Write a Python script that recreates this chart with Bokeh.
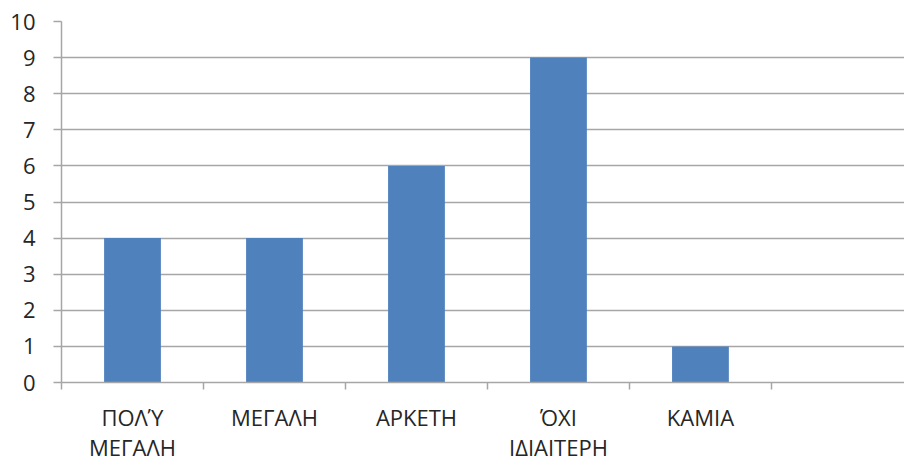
from bokeh.plotting import figure
from bokeh.models import FixedTicker, ColumnDataSource
from bokeh.embed import file_html
from bokeh.resources import INLINE

categories = ["ΠΟΛΎ\nΜΕΓΑΛΗ", "ΜΕΓΑΛΗ", "ΑΡΚΕΤΗ", "ΌΧΙ\nΙΔΙΑΙΤΕΡΗ", "ΚΑΜΙΑ"]
values = [4, 4, 6, 9, 1]
n_slots = 6  # an empty sixth slot follows the five categories
y_ticks = list(range(0, 11))

centers = [i + 0.5 for i in range(len(categories))]
src = ColumnDataSource(dict(x=centers, top=values))

p = figure(frame_width=843, frame_height=361, x_range=(0, 5.937), y_range=(0, 10),
           output_backend="svg", toolbar_location=None,
           min_border_left=61, min_border_right=0, min_border_top=21, min_border_bottom=0)
p.outline_line_color = None
p.background_fill_color = "white"
p.border_fill_color = "white"

p.vbar(x="x", top="top", width=0.4, bottom=0, source=src, color="#4F81BD", line_color=None)

GRID = "#A6A6A6"
TXT = "#262626"
FONT = "Open Sans"

p.xgrid.grid_line_color = None
p.ygrid.grid_line_color = GRID
p.ygrid.grid_line_width = 1.5
p.ygrid.ticker = FixedTicker(ticks=y_ticks)

ya = p.yaxis[0]
ya.ticker = FixedTicker(ticks=y_ticks)
ya.axis_line_color = GRID
ya.axis_line_width = 1.5
ya.major_tick_line_color = GRID
ya.major_tick_line_width = 1.5
ya.major_tick_out = 8
ya.major_tick_in = 0
ya.minor_tick_line_color = None
ya.major_label_standoff = 18
ya.major_label_text_font = FONT
ya.major_label_text_font_size = "22px"
ya.major_label_text_color = TXT

xa = p.xaxis[0]
xa.ticker = FixedTicker(ticks=centers, minor_ticks=list(range(0, n_slots + 1)))
xa.major_label_overrides = {c: lab for c, lab in zip(centers, categories)}
xa.axis_line_color = GRID
xa.axis_line_width = 1.5
xa.major_tick_line_color = None
xa.major_tick_out = 0
xa.major_tick_in = 0
xa.minor_tick_line_color = GRID
xa.minor_tick_line_width = 1.5
xa.minor_tick_out = 7
xa.minor_tick_in = 0
xa.major_label_standoff = 12
xa.major_label_text_font = FONT
xa.major_label_text_font_size = "22px"
xa.major_label_text_color = TXT
xa.major_label_text_line_height = 1.0

open("out.html", "w").write(file_html(p, INLINE))
